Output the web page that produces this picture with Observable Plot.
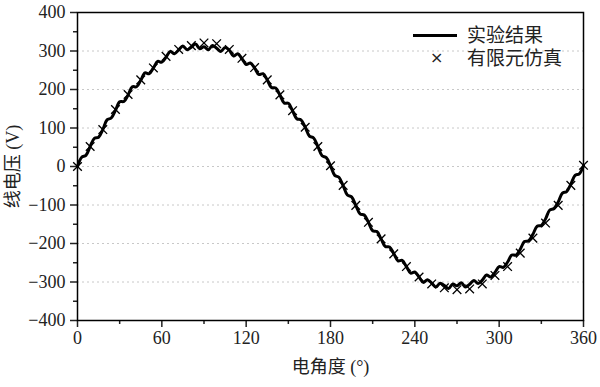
<!DOCTYPE html>
<html>
<head>
<meta charset="utf-8">
<script src="https://cdn.jsdelivr.net/npm/d3@7"></script>
<script src="https://cdn.jsdelivr.net/npm/@observablehq/plot@0.6"></script>
<style>
  html, body { margin: 0; padding: 0; background: #fff; }
  #wrap { position: relative; width: 600px; height: 387px; font-family: "Liberation Serif", "Noto Sans CJK SC", serif; }
  #wrap svg, #wrap svg text { font-family: "Liberation Serif", "Noto Sans CJK SC", serif !important; }
  .leg { position: absolute; font-size: 19px; color: #222; line-height: 1; white-space: nowrap; }
</style>
</head>
<body>
<div id="wrap"></div>
<script>
// x grid of the measured curve (degrees)
const lineAngles = d3.range(0, 361, 3);
// experimental line voltage (V), read at each 3°
const lineVolts = [
  0, 24, 29, 52, 73, 76, 96, 121, 126, 146, 168, 169, 186, 207, 207, 224, 243, 241, 256, 273, 271,
  284, 299, 293, 303, 313, 303, 310, 318, 306, 311,
  303, 314, 307, 299, 309, 302, 287, 293, 280, 265, 269, 256, 239, 241, 225, 205, 204, 186, 165, 164,
  145, 124, 121, 102, 79, 74, 52, 28, 23, 2,
  -23, -28, -50, -74, -79, -101, -123, -126, -145, -167, -169, -188, -208, -209, -226, -245, -244, -260,
  -277, -274, -287, -301, -294, -303, -313, -303, -309, -317, -305, -310,
  -302, -313, -306, -296, -304, -295, -282, -287, -275, -260, -262, -248, -230, -230, -215, -195, -193,
  -176, -155, -153, -136, -113, -109, -92, -69, -65, -46, -23, -19, 2
];
// finite element simulation points
const femAngles = d3.range(0, 361, 9);
const femVolts = [
  0, 52, 96, 148, 187, 225, 256, 286, 304, 314, 321, 319, 304, 281, 257, 225, 186, 145, 102, 52,
  2, -49, -101, -145, -188, -227, -260, -287, -305, -315, -320, -318, -305, -283, -260, -225, -186, -147, -101, -49, 3
];
const xTicks = [0, 60, 120, 180, 240, 300, 360];
const xMinor = [30, 90, 150, 210, 270, 330];
const yTicks = [-400, -300, -200, -100, 0, 100, 200, 300, 400];
const yMinor = [-350, -250, -150, -50, 50, 150, 250, 350];
const gridVals = [-300, -200, -100, 0, 100, 200, 300];
const seriesNames = ["实验结果", "有限元仿真"];
const xTitle = "电角度 (°)";
const yTitle = "线电压 (V)";

const lineData = lineAngles.map((a, i) => ({a, v: lineVolts[i]}));
const femData = femAngles.map((a, i) => ({a, v: femVolts[i]}));

const chart = Plot.plot({
  width: 600,
  height: 387,
  marginLeft: 77,
  marginRight: 17,
  marginTop: 12,
  marginBottom: 67,
  style: { fontSize: "18px", color: "#222", background: "#fff" },
  x: { domain: [0, 360] },
  y: { domain: [-400, 400] },
  marks: [
    Plot.gridY(gridVals, { stroke: "#c8c8c8", strokeOpacity: 1, strokeDasharray: "2,3" }),
    Plot.axisX(xTicks, { tickSize: 7, tickPadding: 4, strokeWidth: 1.5, label: xTitle, labelAnchor: "center", labelOffset: 52, labelArrow: "none" }),
    Plot.axisX(xMinor, { tickSize: 4, strokeWidth: 1.5, tickFormat: () => "", label: null }),
    Plot.axisY(yTicks, { tickSize: 7, tickPadding: 5, strokeWidth: 1.5, label: yTitle, labelAnchor: "center", labelOffset: 71, labelArrow: "none" }),
    Plot.axisY(yMinor, { tickSize: 4, strokeWidth: 1.5, tickFormat: () => "", label: null }),
    Plot.line(lineData, { x: "a", y: "v", stroke: "#000", strokeWidth: 3, curve: "catmull-rom" }),
    Plot.dot(femData, { x: "a", y: "v", symbol: "times", r: 4, stroke: "#000", strokeWidth: 1.3 }),
    Plot.frame({ stroke: "#000", strokeWidth: 1.5 })
  ]
});
const wrap = document.getElementById("wrap");
wrap.appendChild(chart);

// legend
const legLine = document.createElement("div");
legLine.style.cssText = "position:absolute;left:413px;top:34px;width:44px;height:3px;background:#000;";
wrap.appendChild(legLine);
const legX = document.createElement("div");
legX.className = "leg";
legX.style.cssText += "left:430px;top:50px;font-size:16px;font-family:'DejaVu Sans';";
legX.textContent = "×";
wrap.appendChild(legX);
seriesNames.forEach((n, i) => {
  const d = document.createElement("div");
  d.className = "leg";
  d.style.left = "467px";
  d.style.top = (26 + i * 23) + "px";
  d.textContent = n;
  wrap.appendChild(d);
});
</script>
</body>
</html>
